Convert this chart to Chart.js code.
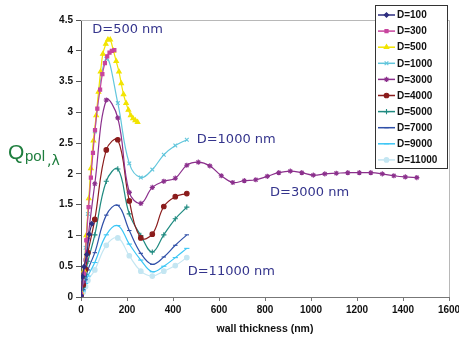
<!DOCTYPE html>
<html>
<head>
<meta charset="utf-8">
<script src="https://cdn.jsdelivr.net/npm/chart.js@4.4.1/dist/chart.umd.min.js"></script>
<style>
  html, body { margin: 0; padding: 0; background: #fff; }
  #wrap { position: relative; width: 459px; height: 337px; }
</style>
</head>
<body>
<div id="wrap"><canvas id="grafico" width="459" height="337"></canvas></div>
<script>
// valores
const seriesNomes = ["D=100", "D=300", "D=500", "D=1000", "D=3000", "D=4000", "D=5000", "D=7000", "D=9000", "D=11000"];

const xD100 = [0, 7, 13, 25, 36, 47];
const yD100 = [0.02, 0.33, 0.49, 0.69, 1.02, 1.19];

const xD300 = [0, 13, 23, 33, 43, 52, 61, 71, 83, 93, 104, 114, 124, 134, 145];
const yD300 = [0.05, 0.38, 0.92, 1.46, 1.94, 2.34, 2.71, 3.06, 3.37, 3.62, 3.8, 3.91, 3.97, 4.0, 4.01];

const xD500 = [0, 13, 23, 34, 43, 54, 66, 76, 85, 95, 108, 117, 127, 141, 153, 165, 175, 185, 196, 206, 216, 226, 236, 246];
const yD500 = [0.08, 0.43, 1.0, 1.6, 2.09, 2.54, 2.95, 3.33, 3.66, 3.95, 4.11, 4.18, 4.18, 4.0, 3.83, 3.66, 3.47, 3.29, 3.15, 3.04, 2.95, 2.9, 2.87, 2.84];

// espessuras usadas para D >= 1000
const xLargo = [0, 10, 20, 30, 60, 110, 160, 210, 260, 310, 360, 410, 460];
const yD1000 = [0.02, 0.3, 0.8, 1.35, 2.69, 3.87, 3.15, 2.17, 1.94, 2.07, 2.31, 2.46, 2.555];
const yD4000 = [0.02, 0.2, 0.45, 0.72, 1.26, 2.39, 2.555, 1.56, 0.96, 1.02, 1.47, 1.63, 1.68];
const yD5000 = [0.02, 0.16, 0.37, 0.58, 1.01, 1.88, 2.08, 1.35, 1.0, 0.73, 1.01, 1.27, 1.46];
const yD7000 = [0.02, 0.12, 0.28, 0.44, 0.72, 1.33, 1.49, 1.08, 0.71, 0.53, 0.65, 0.84, 1.01];
const yD9000 = [0.02, 0.1, 0.22, 0.34, 0.56, 1.01, 1.16, 0.86, 0.6, 0.41, 0.5, 0.64, 0.79];
const yD11000 = [0.02, 0.08, 0.17, 0.27, 0.44, 0.84, 0.96, 0.67, 0.42, 0.34, 0.42, 0.51, 0.64];

const xD3000 = [0, 10, 20, 30, 60, 110, 160, 210, 260, 310, 360, 410, 460, 510, 560, 610, 660, 710, 760, 810, 860, 910, 960, 1010, 1060, 1110, 1160, 1210, 1260, 1310, 1360, 1410, 1460];
const yD3000 = [0.02, 0.25, 0.6, 0.95, 1.84, 3.2, 2.91, 1.7, 1.52, 1.78, 1.88, 1.93, 2.14, 2.19, 2.13, 1.97, 1.86, 1.89, 1.905, 1.96, 2.02, 2.045, 2.02, 1.98, 2.0, 2.01, 2.02, 2.02, 2.02, 2.0, 1.97, 1.95, 1.94];

const xTicks = [0, 200, 400, 600, 800, 1000, 1200, 1400, 1600];
const yTicks = [0, 0.5, 1, 1.5, 2, 2.5, 3, 3.5, 4, 4.5];

// rotulos dentro do grafico (posicao em unidades dos eixos)
const rotulosTexto = ["D=500 nm", "D=1000 nm", "D=3000 nm", "D=11000 nm"];
const rotulosX = [49, 503, 822, 464];
const rotulosY = [4.34, 2.555, 1.69, 0.42];

const cores = ["#2e2e80", "#c8449e", "#f2e400", "#62c6dc", "#8b2f8c", "#8b1c1c", "#1f8a80", "#3050a8", "#3cc6f5", "#c4e6f2"];
const marcadores = ["rectRot", "rect", "triangle", "crossRot", "star", "circle", "cross", "line", "line", "circle"];
const raios = [2.2, 2.2, 2.6, 2.6, 2.6, 2.3, 2.6, 2.2, 2.6, 2.3];

function montarPontos(xs, ys) {
  const pontos = [];
  for (let i = 0; i < xs.length; i++) {
    pontos.push({ x: xs[i], y: ys[i] });
  }
  return pontos;
}

const todosX = [xD100, xD300, xD500, xLargo, xD3000, xLargo, xLargo, xLargo, xLargo, xLargo];
const todosY = [yD100, yD300, yD500, yD1000, yD3000, yD4000, yD5000, yD7000, yD9000, yD11000];

const datasets = [];
for (let i = 0; i < seriesNomes.length; i++) {
  datasets.push({
    label: seriesNomes[i],
    data: montarPontos(todosX[i], todosY[i]),
    showLine: true,
    borderColor: cores[i],
    backgroundColor: cores[i],
    borderWidth: 1.2,
    pointStyle: marcadores[i],
    pointRadius: raios[i],
    pointBorderWidth: 1.1,
    tension: 0.4,
  });
}

const extras = {
  id: "extras",
  beforeDatasetsDraw(chart) {
    const ctx = chart.ctx;
    const a = chart.chartArea;
    ctx.save();
    ctx.strokeStyle = "#b8b8b8";
    ctx.lineWidth = 1;
    ctx.beginPath();
    ctx.moveTo(a.left, a.top + 0.5);
    ctx.lineTo(a.right + 0.5, a.top + 0.5);
    ctx.lineTo(a.right + 0.5, a.bottom);
    ctx.stroke();
    ctx.restore();
  },
  afterDraw(chart) {
    const ctx = chart.ctx;
    const sx = chart.scales.x;
    const sy = chart.scales.y;
    ctx.save();

    // rotulos D=... nm
    ctx.fillStyle = "#34348c";
    ctx.font = '13px "DejaVu Sans", sans-serif';
    ctx.textBaseline = "middle";
    ctx.textAlign = "left";
    for (let i = 0; i < rotulosTexto.length; i++) {
      ctx.fillText(rotulosTexto[i], sx.getPixelForValue(rotulosX[i]), sy.getPixelForValue(rotulosY[i]));
    }

    // titulo do eixo y
    ctx.fillStyle = "#1f7e3e";
    ctx.textBaseline = "alphabetic";
    ctx.font = '21px "Liberation Sans", Arial, sans-serif';
    ctx.fillText("Q", 8, 159);
    ctx.font = '15px "Liberation Sans", Arial, sans-serif';
    ctx.fillText("pol", 25, 161);
    ctx.font = '14px "DejaVu Sans", sans-serif';
    ctx.fillText(",λ", 47, 165);

    // legenda
    const lx = 375, ly = 5, lw = 72, lh = 163;
    ctx.fillStyle = "#fff";
    ctx.fillRect(lx, ly, lw, lh);
    ctx.strokeStyle = "#333";
    ctx.lineWidth = 1;
    ctx.strokeRect(lx + 0.5, ly + 0.5, lw, lh);
    ctx.font = 'bold 10px "Liberation Sans", Arial, sans-serif';
    ctx.textBaseline = "middle";
    for (let i = 0; i < datasets.length; i++) {
      const yy = ly + 10 + i * 16.1;
      ctx.strokeStyle = cores[i];
      ctx.lineWidth = 1.5;
      ctx.beginPath();
      ctx.moveTo(378, yy);
      ctx.lineTo(395, yy);
      ctx.stroke();
      if (Chart.helpers && Chart.helpers.drawPoint) {
        ctx.fillStyle = cores[i];
        ctx.lineWidth = 1.1;
        Chart.helpers.drawPoint(ctx, { pointStyle: marcadores[i], radius: raios[i], borderWidth: 1.1, rotation: 0 }, 386.5, yy);
      }
      ctx.fillStyle = "#111";
      ctx.fillText(seriesNomes[i], 397, yy + 0.5);
    }
    ctx.restore();
  },
};

new Chart(document.getElementById("grafico"), {
  type: "scatter",
  data: { datasets: datasets },
  options: {
    responsive: false,
    animation: false,
    layout: { padding: { top: 20, right: 10, left: 0, bottom: 0 } },
    plugins: {
      legend: { display: false },
      tooltip: { enabled: false },
    },
    scales: {
      x: {
        type: "linear",
        min: 0,
        max: 1600,
        afterBuildTicks(s) { s.ticks = xTicks.map((v) => ({ value: v })); },
        afterFit(s) { s.height = 40; s.paddingLeft = 0; s.paddingRight = 0; },
        grid: { drawOnChartArea: false, drawTicks: true, tickLength: 4, color: "#777" },
        border: { display: true, color: "#777" },
        ticks: { color: "#111", padding: 3, maxRotation: 0, callback: (v) => String(v), font: { family: '"Liberation Sans", Arial', size: 10, weight: "bold" } },
        title: { display: true, text: "wall thickness (nm)", color: "#111", padding: { top: 0, bottom: 2 }, font: { family: '"Liberation Sans", Arial', size: 10.5, weight: "bold" } },
      },
      y: {
        type: "linear",
        min: 0,
        max: 4.5,
        afterBuildTicks(s) { s.ticks = yTicks.map((v) => ({ value: v })); },
        afterFit(s) { s.width = 81; s.paddingTop = 0; s.paddingBottom = 0; },
        grid: { drawOnChartArea: false, drawTicks: true, tickLength: 5, color: "#555" },
        border: { display: true, color: "#555" },
        ticks: { color: "#111", padding: 3, callback: (v) => String(v), font: { family: '"Liberation Sans", Arial', size: 10, weight: "bold" } },
      },
    },
  },
  plugins: [extras],
});
</script>
</body>
</html>
